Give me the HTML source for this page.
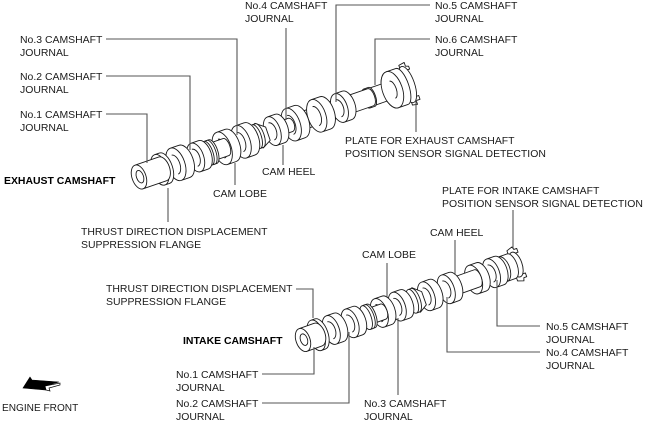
<!DOCTYPE html>
<html><head><meta charset="utf-8">
<style>
html,body{margin:0;padding:0;background:#fff}
svg{display:block}
text{font-family:"Liberation Sans",sans-serif;font-size:10.45px;fill:#1a1a1a}
.b{font-weight:bold;fill:#000}
.l{fill:none;stroke:#555;stroke-width:1.1}
.c path{fill:#fff;stroke:#1a1a1a;stroke-width:.9;stroke-linejoin:round}
</style></head><body>
<svg width="647" height="428" viewBox="0 0 647 428" xmlns="http://www.w3.org/2000/svg">
<defs class="c">
<path id="d17" d="M9-17A9 17 0 0 1 9 17L0 17A9 17 0 0 1 0-17ZM0-17A9 17 0 0 1 0 17M-1-10A5 10 0 0 1-1 10"/>
<path id="d15" d="M8-15A8 15 0 0 1 8 15L0 15A8 15 0 0 1 0-15ZM0-15A8 15 0 0 1 0 15M-1-9A5 9 0 0 1-1 9"/>
<path id="r12" d="M3-12.500A5 12.500 0 0 1 3 12.500L0 12.500A5 12.500 0 0 1 0-12.500ZM0-12.500A5 12.500 0 0 1 0 12.500"/>
</defs>

<!-- EXHAUST CAMSHAFT -->
<g class="c" transform="translate(139 177) rotate(-19)">
<path d="M282-21L288-22 288-18 291-17 291-14 287-14 287 14 291 14 291 18 287 18 287 22 282 21Z"/>
<path d="M284-19A7 19 0 0 1 284 19A7 19 0 0 1 284-19Z"/>
<path d="M278-19A7 19 0 0 1 278 19L268 19A10 19 0 0 1 268-19Z"/>
<path d="M272-9A4 9 0 0 1 272 9L245 9A4 9 0 0 1 245-9Z"/>
<path d="M268-19A10 19 0 0 1 268 19A10 19 0 0 1 268-19Z"/>
<path d="M268-9A4 9 0 0 1 268 9"/>
<path d="M246-10A4 10 0 0 1 246 10L241 10A4 10 0 0 1 241-10ZM241-10A4 10 0 0 1 241 10"/>
<path d="M245-9A4 9 0 0 1 245 9L160 9A4 9 0 0 1 160-9Z"/>
<use href="#d15" x="212"/>
<use href="#d17" x="188"/>
<use href="#d17" x="161"/>
<path d="M160-7A4 7 0 0 1 160 7L90 7A4 7 0 0 1 90-7Z"/>
<use href="#d15" x="141"/>
<path d="M127-13L136-6 136 8 127 13 120 7 120-7Z"/>
<use href="#r12" x="124"/>
<use href="#d17" x="108"/>
<use href="#d17" x="88"/>
<path d="M92-9A4 9 0 0 1 92 9L30 9A4 9 0 0 1 30-9Z"/>
<use href="#r12" x="75"/><use href="#r12" x="73"/>
<use href="#d15" x="60"/>
<use href="#d17" x="39"/>
<path d="M27-16A8 16 0 0 1 27 16L22 16A8 16 0 0 1 22-16ZM22-16A8 16 0 0 1 22 16"/>
<path d="M25-12.500A7 12.500 0 0 1 25 12.500L0 12.500A7 12.500 0 0 1 0-12.500ZM0-12.500A7 12.500 0 0 1 0 12.500"/>
<ellipse cx="1" cy="0" rx="3.500" ry="6.500" fill="#fff" stroke="#1a1a1a" stroke-width=".9"/>
</g>

<!-- INTAKE CAMSHAFT -->
<g class="c" transform="translate(303 340) rotate(-19.500)">
<path d="M222-16L228-18 229-15 232-15 232-11 229-11 229 11 232 11 232 15 229 15 228 18 222 16Z"/>
<path d="M226-13A6 13 0 0 1 226 13A6 13 0 0 1 226-13Z"/>
<path d="M221-13A6 13 0 0 1 221 13L212 13A7 13 0 0 1 212-13ZM212-13A7 13 0 0 1 212 13"/>
<use href="#d15" x="200"/>
<use href="#d15" x="181"/>
<path d="M185-9A4 9 0 0 1 185 9L150 9A4 9 0 0 1 150-9Z"/>
<use href="#d15" x="152"/>
<use href="#d15" x="131"/>
<path d="M120-13L128-6 128 8 120 13 112 7 112-7Z"/>
<use href="#r12" x="116"/>
<use href="#d15" x="100"/>
<use href="#d15" x="81"/>
<path d="M85-8A4 8 0 0 1 85 8L30 8A4 8 0 0 1 30-8Z"/>
<use href="#r12" x="69"/><use href="#r12" x="67"/>
<use href="#d15" x="50"/>
<use href="#d15" x="30"/>
<path d="M18-16A8 16 0 0 1 18 16L14 16A8 16 0 0 1 14-16ZM14-16A8 16 0 0 1 14 16"/>
<path d="M16-12A7 12 0 0 1 16 12L0 12A7 12 0 0 1 0-12ZM0-12A7 12 0 0 1 0 12"/>
<ellipse cx="1" cy="0" rx="3.500" ry="6" fill="#fff" stroke="#1a1a1a" stroke-width=".9"/>
</g>

<!-- Leaders -->
<g class="l">
<path d="M106 39H237V135"/>
<path d="M106 76H190V150"/>
<path d="M106 114H147V163"/>
<path d="M286 28V120"/>
<path d="M430 5H336V102"/>
<path d="M430 39H375V85"/>
<path d="M416 100V132"/>
<path d="M283 145V165"/>
<path d="M235 163V185"/>
<path d="M168 188V222"/>
<path d="M296 289H313V318"/>
<path d="M262 374H314V347"/>
<path d="M262 403H349V332"/>
<path d="M398 318V395"/>
<path d="M387 263V297"/>
<path d="M455 240V275"/>
<path d="M540 352H447V297"/>
<path d="M540 326H497V280"/>
<path d="M513 210V248"/>
</g>

<!-- Arrow -->
<path d="M23 388L30 377 32 380 59 382 45 386 46 390Z" fill="#000" stroke="#000" stroke-width=".6"/>
<path d="M45 386L60 383 60 385 49 388 50 391 46 390Z" fill="#fff" stroke="#000" stroke-width=".7"/>

<!-- Labels -->
<text x="245" y="9">No.4 CAMSHAFT</text><text x="245" y="22">JOURNAL</text>
<text x="435" y="9">No.5 CAMSHAFT</text><text x="435" y="22">JOURNAL</text>
<text x="435" y="43">No.6 CAMSHAFT</text><text x="435" y="56">JOURNAL</text>
<text x="20" y="43">No.3 CAMSHAFT</text><text x="20" y="56">JOURNAL</text>
<text x="20" y="80">No.2 CAMSHAFT</text><text x="20" y="93">JOURNAL</text>
<text x="20" y="118">No.1 CAMSHAFT</text><text x="20" y="131">JOURNAL</text>
<text x="345" y="144">PLATE FOR EXHAUST CAMSHAFT</text>
<text x="345" y="157">POSITION SENSOR SIGNAL DETECTION</text>
<text x="262" y="175">CAM HEEL</text>
<text x="213" y="197">CAM LOBE</text>
<text class="b" x="4" y="184">EXHAUST CAMSHAFT</text>
<text x="81" y="235">THRUST DIRECTION DISPLACEMENT</text>
<text x="81" y="248">SUPPRESSION FLANGE</text>
<text x="442" y="194">PLATE FOR INTAKE CAMSHAFT</text>
<text x="442" y="207">POSITION SENSOR SIGNAL DETECTION</text>
<text x="430" y="236">CAM HEEL</text>
<text x="362" y="258">CAM LOBE</text>
<text x="106" y="292">THRUST DIRECTION DISPLACEMENT</text>
<text x="106" y="305">SUPPRESSION FLANGE</text>
<text class="b" x="183" y="344">INTAKE CAMSHAFT</text>
<text x="546" y="330">No.5 CAMSHAFT</text><text x="546" y="343">JOURNAL</text>
<text x="546" y="356">No.4 CAMSHAFT</text><text x="546" y="369">JOURNAL</text>
<text x="176" y="378">No.1 CAMSHAFT</text><text x="176" y="391">JOURNAL</text>
<text x="176" y="407">No.2 CAMSHAFT</text><text x="176" y="420">JOURNAL</text>
<text x="364" y="407">No.3 CAMSHAFT</text><text x="364" y="420">JOURNAL</text>
<text x="2" y="411" style="font-size:10.1px">ENGINE FRONT</text>
</svg>
</body></html>
